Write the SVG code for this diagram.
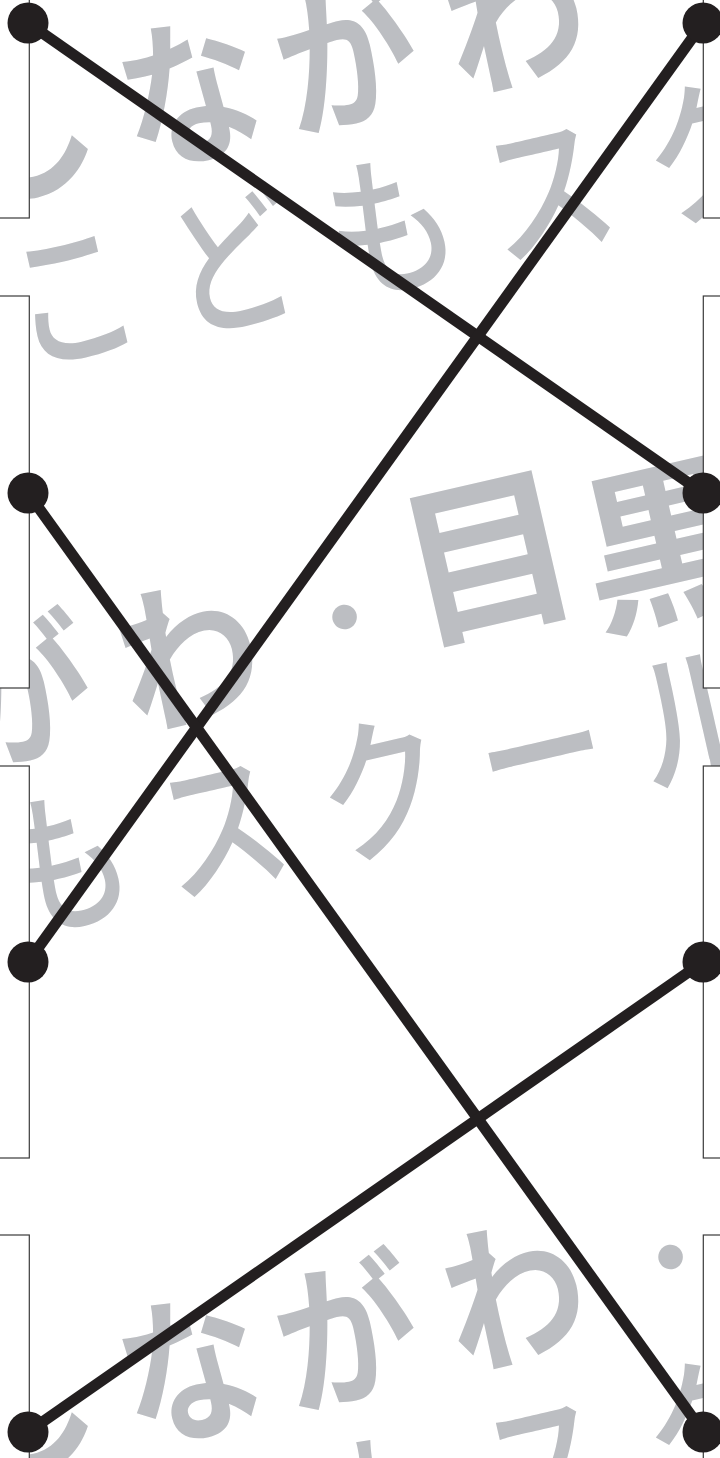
<svg xmlns="http://www.w3.org/2000/svg" width="720" height="1458" viewBox="0 0 720 1458">
<style>
.t1{font-family:"Noto Sans CJK JP","Noto Sans CJK SC",sans-serif;font-weight:700;fill:#bcbec2;text-anchor:middle}
.t2{font-family:"Noto Sans CJK JP","Noto Sans CJK SC",sans-serif;font-weight:500;fill:#bcbec2;text-anchor:middle}
.br{fill:#ffffff;stroke:#3a3a3a;stroke-width:1.2}
.ln{stroke:#231f20;stroke-width:11;fill:none}
.dot{fill:#231f20}
</style>
<defs>
<g id="block">
<text class="t1" font-size="156" transform="translate(-466,738) scale(0.88,1)">し</text>
<text class="t1" font-size="160" transform="translate(-297,740) scale(0.88,1)">な</text>
<text class="t1" font-size="160" transform="translate(-136,740) scale(0.88,1)">が</text>
<text class="t1" font-size="160" transform="translate(36,740) scale(0.88,1)">わ</text>
<text class="t1" font-size="96" x="197" y="715">・</text>
<text class="t1" font-size="175" x="350" y="717">目</text>
<text class="t1" font-size="175" x="528" y="745">黒</text>
<text class="t2" font-size="156" transform="translate(-457,910) scale(0.82,1)">こ</text>
<text class="t2" font-size="156" transform="translate(-294,913) scale(0.82,1)">ど</text>
<text class="t2" font-size="156" transform="translate(-131,913) scale(0.82,1)">も</text>
<text class="t2" font-size="156" transform="translate(30,913) scale(0.82,1)">ス</text>
<text class="t2" font-size="156" transform="translate(195,913) scale(0.82,1)">ク</text>
<text class="t2" font-size="156" transform="translate(358,913) scale(0.82,1)">ー</text>
<text class="t2" font-size="156" transform="translate(518,913) scale(0.82,1)">ル</text>
</g>
</defs>
<rect width="720" height="1458" fill="#ffffff"/>
<g id="watermark">
<use href="#block" transform="translate(326,-637) rotate(-13)"/>
<use href="#block" transform="rotate(-13)"/>
<use href="#block" transform="translate(326,640) rotate(-13)"/>
</g>
<g id="brackets">
<rect class="br" x="-10" y="-174" width="39.3" height="392"/>
<rect class="br" x="-10" y="296" width="39.3" height="392"/>
<rect class="br" x="-10" y="766" width="39.3" height="392"/>
<rect class="br" x="-10" y="1235" width="39.3" height="392"/>
<rect class="br" x="703.3" y="-174" width="40" height="392"/>
<rect class="br" x="703.3" y="296" width="40" height="392"/>
<rect class="br" x="703.3" y="766" width="40" height="392"/>
<rect class="br" x="703.3" y="1235" width="40" height="392"/>
</g>
<g id="connectors">
<line class="ln" x1="28" y1="23" x2="703" y2="493"/>
<line class="ln" x1="703" y1="23" x2="28" y2="962"/>
<line class="ln" x1="28" y1="493" x2="703" y2="1432"/>
<line class="ln" x1="703" y1="962" x2="28" y2="1432"/>
</g>
<g id="node-l1"><circle class="dot" cx="28" cy="23" r="20.5"/></g>
<g id="node-r1"><circle class="dot" cx="703" cy="23" r="20.5"/></g>
<g id="node-l2"><circle class="dot" cx="28" cy="493" r="20.5"/></g>
<g id="node-r2"><circle class="dot" cx="703" cy="493" r="20.5"/></g>
<g id="node-l3"><circle class="dot" cx="28" cy="962" r="20.5"/></g>
<g id="node-r3"><circle class="dot" cx="703" cy="962" r="20.5"/></g>
<g id="node-l4"><circle class="dot" cx="28" cy="1432" r="20.5"/></g>
<g id="node-r4"><circle class="dot" cx="703" cy="1432" r="20.5"/></g>
</svg>
